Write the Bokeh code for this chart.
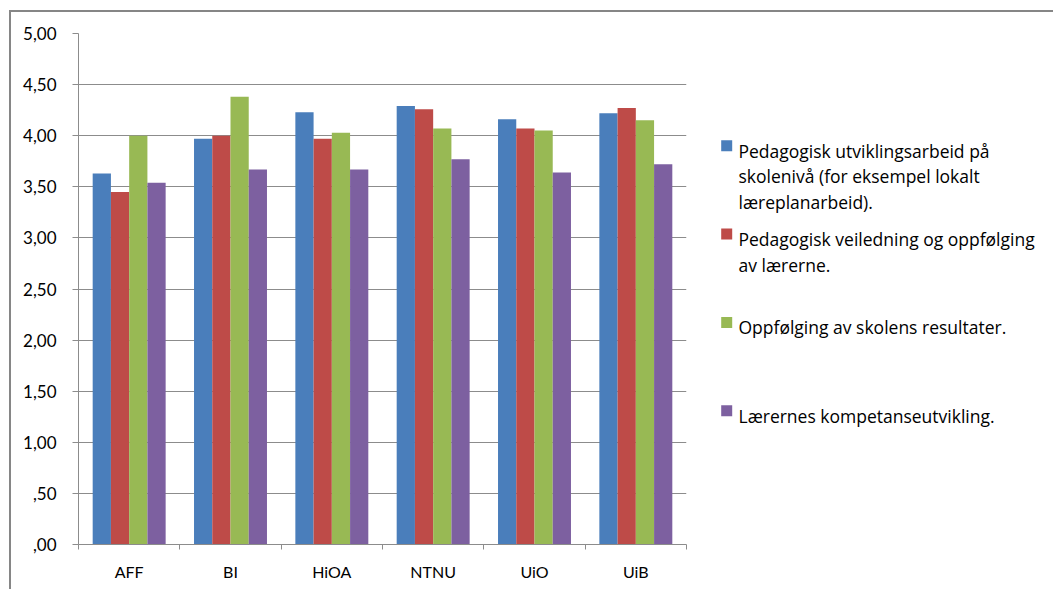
from bokeh.plotting import figure
from bokeh.layouts import row
from bokeh.models import Range1d, FixedTicker, ColumnDataSource
from bokeh.transform import dodge
from bokeh.core.properties import value
from bokeh.embed import file_html
from bokeh.resources import INLINE

categories = ["AFF", "BI", "HiOA", "NTNU", "UiO", "UiB"]
series_keys = ["s1", "s2", "s3", "s4"]
series_lines = [
    ["Pedagogisk utviklingsarbeid på", "skolenivå (for eksempel lokalt", "læreplanarbeid)."],
    ["Pedagogisk veiledning og oppfølging", "av lærerne."],
    ["Oppfølging av skolens resultater."],
    ["Lærernes kompetanseutvikling."],
]
s1 = [3.63, 3.97, 4.23, 4.29, 4.16, 4.22]
s2 = [3.45, 4.00, 3.97, 4.26, 4.07, 4.27]
s3 = [4.00, 4.38, 4.03, 4.07, 4.05, 4.15]
s4 = [3.54, 3.67, 3.67, 3.77, 3.64, 3.72]
y_ticks = [0.0, 0.5, 1.0, 1.5, 2.0, 2.5, 3.0, 3.5, 4.0, 4.5, 5.0]
y_tick_labels = [",00", ",50", "1,00", "1,50", "2,00", "2,50", "3,00", "3,50", "4,00", "4,50", "5,00"]

colors = ["#4A7EBB", "#BE4B48", "#98B954", "#7D60A0"]
FONT = "Lato"
LEG_FONT = "Open Sans"
GRID = "#8C8C8C"
BORDER = "#868686"

n = len(categories)
centers = [i + 0.5 for i in range(n)]
bounds = [float(i) for i in range(n + 1)]

# page geometry (content starts after 9px margin + 2px border on the left, 10px + 2px on top)
X0, Y0 = 11, 12
PAGE_W, PAGE_H = 1053, 589
FRAME_L, FRAME_R, FRAME_T, FRAME_B = 78, 686, 33, 544
CW = FRAME_R - X0 + 3      # chart figure width
CH = PAGE_H - Y0           # figure heights
LW = PAGE_W - X0 - CW      # legend figure width

p = figure(width=CW, height=CH, output_backend="svg", toolbar_location=None,
           x_range=Range1d(0, n), y_range=Range1d(0, 5),
           min_border_left=FRAME_L - X0, min_border_top=FRAME_T - Y0,
           min_border_bottom=PAGE_H - FRAME_B, min_border_right=3)
p.outline_line_color = None
p.background_fill_color = "white"
p.border_fill_color = "white"

src = ColumnDataSource(dict(pos=centers, cat=categories, s1=s1, s2=s2, s3=s3, s4=s4))
offsets = [-0.27, -0.09, 0.09, 0.27]
for key, off, col in zip(series_keys, offsets, colors):
    p.vbar(x=dodge("pos", off), top=key, width=0.18, source=src,
           fill_color=col, line_color=None)

yax = p.yaxis[0]
yax.ticker = FixedTicker(ticks=y_ticks)
yax.major_label_overrides = {t: l for t, l in zip(y_ticks, y_tick_labels)}
yax.axis_line_color = GRID
yax.major_tick_line_color = GRID
yax.major_tick_out = 6
yax.major_tick_in = 0
yax.minor_tick_line_color = None
yax.major_label_standoff = 16
yax.major_label_text_font = FONT
yax.major_label_text_font_size = "17px"
yax.major_label_text_color = "#000000"

p.xgrid.visible = False
p.ygrid.ticker = FixedTicker(ticks=y_ticks)
p.ygrid.grid_line_color = GRID

xax = p.xaxis[0]
xax.ticker = FixedTicker(ticks=centers, minor_ticks=bounds)
xax.major_label_overrides = {c: name for c, name in zip(centers, categories)}
xax.major_tick_line_color = None
xax.minor_tick_line_color = GRID
xax.minor_tick_out = 5
xax.minor_tick_in = 0
xax.axis_line_color = GRID
xax.major_label_standoff = 11
xax.major_label_text_font = FONT
xax.major_label_text_font_size = "16px"
xax.major_label_text_color = "#000000"

# legend panel: its frame is aligned with the chart frame; coordinates equal page pixels
lg = figure(width=LW, height=CH, output_backend="svg", toolbar_location=None,
            x_range=Range1d(X0 + CW, PAGE_W), y_range=Range1d(FRAME_B, FRAME_T),
            min_border_left=0, min_border_right=0,
            min_border_top=FRAME_T - Y0, min_border_bottom=PAGE_H - FRAME_B,
            x_axis_location=None, y_axis_location=None)
lg.outline_line_color = None
lg.grid.visible = False
lg.background_fill_color = "white"
lg.border_fill_color = "white"

first_baseline = [150, 238.3, 326.7, 415]
line_gap = 25.8
tx, ty, tt, sx, sy, sc = [], [], [], [], [], []
for lines, base, col in zip(series_lines, first_baseline, colors):
    sx.append(726.2)
    sy.append(base - 4.7)
    sc.append(col)
    for j, txt in enumerate(lines):
        tx.append(738)
        ty.append(base + line_gap * j)
        tt.append(txt)
lg.rect(x=sx, y=sy, width=11, height=11, fill_color=sc, line_color=None)
lg.text(x=tx, y=ty, text=tt, text_font=value(LEG_FONT), text_font_size="17.5px",
        text_color="#000000", text_baseline="alphabetic")

layout = row(p, lg, styles={"border-left": "2px solid " + BORDER,
                            "border-top": "2px solid " + BORDER,
                            "margin-left": "9px", "margin-top": "10px"})

open("out.html", "w").write(file_html(layout, INLINE))
